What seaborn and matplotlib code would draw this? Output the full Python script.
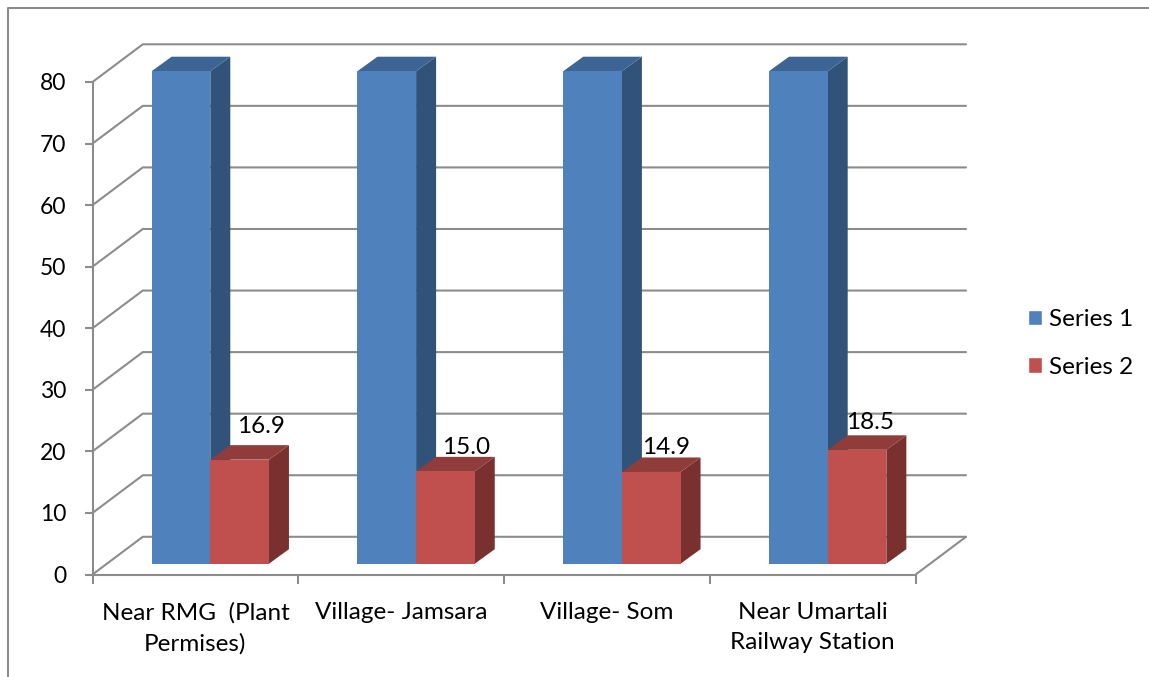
import matplotlib
matplotlib.use('Agg')
import matplotlib.pyplot as plt
from matplotlib.lines import Line2D
from matplotlib.patches import Polygon
from matplotlib.transforms import Affine2D
import pandas as pd
import seaborn as sns

categories = ['Near RMG  (Plant\nPermises)', 'Village- Jamsara', 'Village- Som', 'Near Umartali\nRailway Station']
series_1 = [80, 80, 80, 80]
series_2 = [16.9, 15.0, 14.9, 18.5]
y_ticks = [0, 10, 20, 30, 40, 50, 60, 70, 80]

W, H = 1149, 677
GRID = '#8c8c8c'
FRONT = {'Series 1': '#4f81bd', 'Series 2': '#c0504d'}
TOP = {'Series 1': '#3c6494', 'Series 2': '#8f3c3a'}
SIDE = {'Series 1': '#325379', 'Series 2': '#7a302f'}

sns.set_theme(style='white')
plt.rcParams['font.family'] = ['Lato', 'DejaVu Sans']
FS = 17.5

data = pd.DataFrame({
    'Category': categories * 2,
    'Series': ['Series 1'] * 4 + ['Series 2'] * 4,
    'Value': series_1 + series_2,
})

fig = plt.figure(figsize=(W / 100, H / 100), dpi=100)
# front plane of the fake 3d box, in pixels
left, right, bottom, top = 92.5, 915.7, 574.5, 82
ax = fig.add_axes([left / W, 1 - bottom / H, (right - left) / W, (bottom - top) / H])

sns.barplot(data=data, x='Category', y='Value', hue='Series', palette=FRONT,
            saturation=1, width=0.57, gap=0, ax=ax)
ax.set_xlim(-0.5, 3.5)
ax.set_ylim(0, 80)
ax.set_xlabel('')
ax.set_ylabel('')

# pixels -> data units
px_x = 4 / (right - left)
px_y = 80 / (bottom - top)

# walls: every grid line runs from the front axis to the back wall
back_x, back_y = 50.3 * px_x, 37.7 * px_y
for v in y_ticks:
    ax.plot([-0.5, -0.5 + back_x, 3.5 + back_x], [v, v + back_y, v + back_y],
            color=GRID, lw=1.5, clip_on=False, zorder=1, solid_joinstyle='miter')
ax.plot([3.5, 3.5 + back_x], [0, back_y], color=GRID, lw=1.5, clip_on=False, zorder=1)

# bars sit a little behind the front plane
shift = ax.transData + Affine2D().translate(14.9, 10.8)
depth_x, depth_y = 20 * px_x, 14.5 * px_y
bars = [(name, c) for name, c in zip(['Series 1', 'Series 2'], ax.containers)]
for i, (name, cont) in enumerate(bars):
    for bar in cont:
        x0, x1 = bar.get_x(), bar.get_x() + bar.get_width()
        h = bar.get_height()
        bar.set_transform(shift)
        bar.set_clip_on(False)
        bar.set_linewidth(0)
        bar.set_zorder(3.5)
        ax.add_patch(Polygon([(x1, 0), (x1 + depth_x, depth_y), (x1 + depth_x, h + depth_y), (x1, h)],
                             facecolor=SIDE[name], edgecolor='none', transform=shift,
                             clip_on=False, zorder=3 + i * 0.1))
        ax.add_patch(Polygon([(x0, h), (x0 + depth_x, h + depth_y), (x1 + depth_x, h + depth_y), (x1, h)],
                             facecolor=TOP[name], edgecolor='none', transform=shift,
                             clip_on=False, zorder=3 + i * 0.1))

# value labels, each nudged by hand like in the original
nudges = [(21, 33), (21, 24), (15, 24.5), (13, 27.5)]
for bar, val, (nx, ny) in zip(ax.containers[1], series_2, nudges):
    ax.annotate(f'{val:.1f}', (bar.get_x() + bar.get_width() / 2, val), xycoords=shift,
                xytext=(nx * 0.72, ny * 0.72), textcoords='offset points',
                ha='center', va='center', fontsize=FS, color='black', zorder=5, annotation_clip=False)

# axes
sns.despine(ax=ax)
for s in ['left', 'bottom']:
    ax.spines[s].set_color(GRID)
    ax.spines[s].set_linewidth(1.5)
    ax.spines[s].set_zorder(2)
ax.set_yticks(y_ticks)
ax.set_xticks([-0.5, 0.5, 1.5, 2.5, 3.5])
ax.set_xticklabels([])
ax.set_xticks([0, 1, 2, 3], labels=categories, minor=True)
ax.tick_params(axis='x', which='major', length=6.2, width=1.5, color=GRID, bottom=True)
ax.tick_params(axis='x', which='minor', length=0, labelsize=FS, labelcolor='black', pad=19.5)
ax.tick_params(axis='y', length=5.5, width=1.5, color=GRID, left=True, labelsize=16.5, labelcolor='black', pad=13.5)
for lab in ax.get_xticklabels(minor=True):
    lab.set_linespacing(1.55)
for lab in ax.get_yticklabels():
    lab.set_va('center_baseline')

sns.move_legend(ax, 'center left', bbox_to_anchor=(1028 / W, 1 - 343.5 / H), bbox_transform=fig.transFigure,
                title=None, frameon=False, fontsize=FS, handlelength=0.58, handleheight=0.58,
                handletextpad=0.3, labelspacing=1.08, labelcolor='black', borderpad=0, borderaxespad=0)

# chart frame cut off by the screenshot
fig.add_artist(Line2D([8 / W, 8 / W, 1], [0, 1 - 8 / H, 1 - 8 / H], color=GRID, lw=1.5))

fig.savefig('out.png', dpi=100)
plt.close(fig)
